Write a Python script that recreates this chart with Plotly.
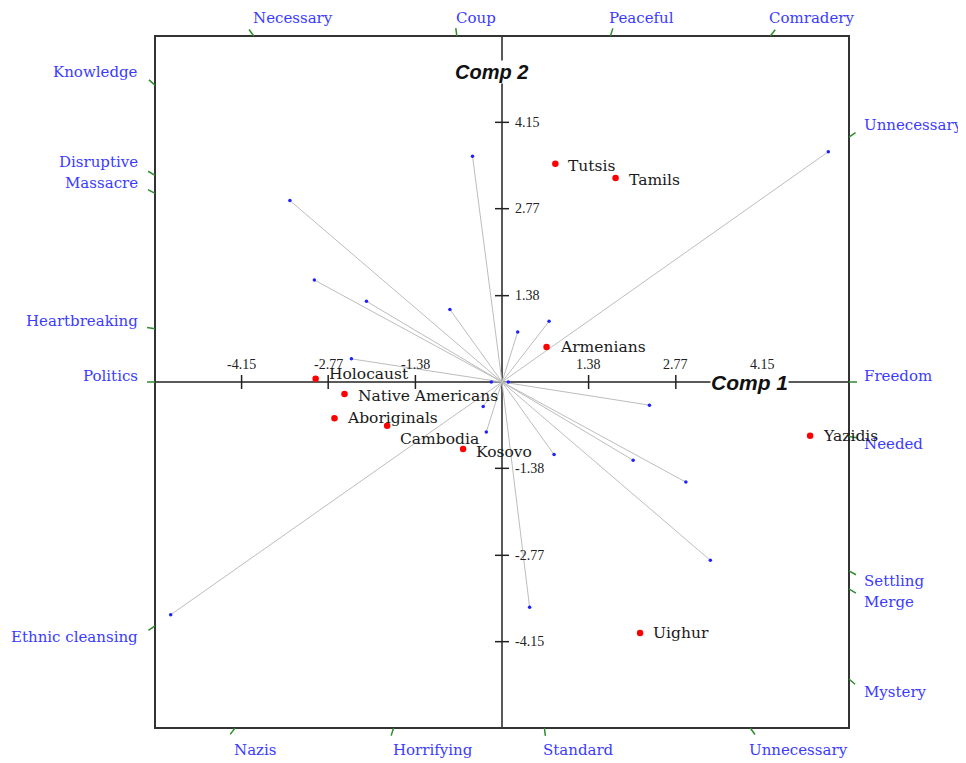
import math
import plotly.graph_objects as go

# ---------------- data ----------------
variables = ["Unnecessary", "Coup", "Knowledge", "Massacre", "Disruptive", "Necessary",
             "Peaceful", "Comradery", "Heartbreaking", "Politics", "Freedom", "Needed",
             "Horrifying", "Unnecessary", "Merge", "Settling", "Mystery", "Standard",
             "Ethnic cleansing", "Nazis"]
var_comp1 = [5.20, -0.47, -3.38, -2.99, -2.16, -0.83, 0.25, 0.75, -2.40, -0.17, 0.10, 2.35,
             -0.25, 0.83, 2.09, 2.93, 3.32, 0.44, -5.28, -0.30]
var_comp2 = [3.68, 3.61, 2.90, 1.63, 1.29, 1.16, 0.80, 0.97, 0.37, 0.00, 0.00, -0.37,
             -0.80, -1.16, -1.25, -1.60, -2.85, -3.60, -3.72, -0.39]

groups = ["Tutsis", "Tamils", "Armenians", "Holocaust", "Native Americans", "Aboriginals",
          "Cambodia", "Kosovo", "Yazidis", "Uighur"]
grp_comp1 = [0.85, 1.81, 0.71, -2.97, -2.51, -2.67, -1.83, -0.62, 4.91, 2.20]
grp_comp2 = [3.49, 3.26, 0.56, 0.05, -0.19, -0.58, -0.70, -1.07, -0.86, -4.01]

tick_vals = [-4.15, -2.77, -1.38, 1.38, 2.77, 4.15]
tick_text = ["-4.15", "-2.77", "-1.38", "1.38", "2.77", "4.15"]

# ---------------- styling / layout constants ----------------
R = 5.53
PAGE_OFF = 8  # default body margin of the html page
FIG_W, FIG_H = 966 - PAGE_OFF, 763 - PAGE_OFF
ML, MR, MT, MB = 155 - PAGE_OFF, 117, 36 - PAGE_OFF, 35
W, H = FIG_W - ML - MR, FIG_H - MT - MB
SX, SY = W / (2 * R), H / (2 * R)
BLUE = "#3b3bff"
GREEN = "#2e8b2e"
label_dy = {"Holocaust": 5, "Cambodia": -13, "Kosovo": -3, "Tutsis": -2, "Tamils": -2,
            "Native Americans": -2}

def px(x, y):
    return (x + R) * SX, (R - y) * SY

def paper(pxx, pyy):
    return pxx / W, 1 - pyy / H

fig = go.Figure()

# vectors
lx, ly = [], []
for vx, vy in zip(var_comp1, var_comp2):
    lx += [0, vx, None]
    ly += [0, vy, None]
fig.add_trace(go.Scatter(x=lx, y=ly, mode="lines", line=dict(color="#bdbdbd", width=1),
                         hoverinfo="skip", showlegend=False))
fig.add_trace(go.Scatter(x=var_comp1, y=var_comp2, mode="markers",
                         marker=dict(color="#1f1fff", size=3.5), showlegend=False))
fig.add_trace(go.Scatter(x=grp_comp1, y=grp_comp2, mode="markers",
                         marker=dict(color="#ff0000", size=6.5, symbol="circle"),
                         showlegend=False))

shapes = []
annotations = []

# frame
shapes.append(dict(type="rect", xref="paper", yref="paper", x0=0, y0=0, x1=1, y1=1,
                   line=dict(color="#333", width=2), layer="above"))
# axes
shapes.append(dict(type="line", xref="x", yref="y", x0=-R, x1=R, y0=0, y1=0,
                   line=dict(color="#222", width=1.5), layer="below"))
shapes.append(dict(type="line", xref="x", yref="y", x0=0, x1=0, y0=-R, y1=R,
                   line=dict(color="#222", width=1.5), layer="below"))
for v, t in zip(tick_vals, tick_text):
    shapes.append(dict(type="line", xref="x", yref="y", x0=v, x1=v, ysizemode="pixel",
                       yanchor=0, y0=-7, y1=7, line=dict(color="#222", width=1.5), layer="below"))
    shapes.append(dict(type="line", xref="x", yref="y", y0=v, y1=v, xsizemode="pixel",
                       xanchor=0, x0=-7, x1=7, line=dict(color="#222", width=1.5), layer="below"))
    annotations.append(dict(x=v, y=0, xref="x", yref="y", text=t, showarrow=False,
                            xanchor="center", yanchor="bottom", yshift=8,
                            font=dict(family="Liberation Serif", size=14, color="#222")))
    annotations.append(dict(x=0, y=v, xref="x", yref="y", text=t, showarrow=False,
                            xanchor="left", yanchor="middle", xshift=11,
                            font=dict(family="Liberation Serif", size=14, color="#222")))

# variable labels at frame edges
sides = {"left": [], "right": [], "top": [], "bottom": []}
for name, vx, vy in zip(variables, var_comp1, var_comp2):
    tx = R / abs(vx) if vx != 0 else math.inf
    ty = R / abs(vy) if vy != 0 else math.inf
    t = min(tx, ty)
    ex, ey = vx * t, vy * t
    bx, by = px(ex, ey)
    ux, uy = vx * SX, -vy * SY
    n = math.hypot(ux, uy)
    ux, uy = ux / n, uy / n
    ox, oy = bx + 8 * ux, by + 8 * uy
    x0p, y0p = paper(bx, by)
    x1p, y1p = paper(ox, oy)
    shapes.append(dict(type="line", xref="paper", yref="paper", x0=x0p, y0=y0p, x1=x1p, y1=y1p,
                       line=dict(color=GREEN, width=1.5)))
    if tx <= ty:
        side = "right" if vx > 0 else "left"
        ratio = abs(vy / vx) * SY / SX
        off = 6 + 8 * ratio
        cy = by - off if vy >= 0 else by + off
        sides[side].append([name, bx, by, cy, vy])
    else:
        side = "top" if vy > 0 else "bottom"
        sides[side].append([name, bx, by, None, vy])

GAP = 21
for side in ("left", "right"):
    items = sides[side]
    upper = sorted([i for i in items if i[4] >= 0], key=lambda i: -i[2])
    lower = sorted([i for i in items if i[4] < 0], key=lambda i: i[2])
    for k in range(1, len(upper)):
        if upper[k][3] > upper[k - 1][3] - GAP:
            upper[k][3] = upper[k - 1][3] - GAP
    for k in range(1, len(lower)):
        if lower[k][3] < lower[k - 1][3] + GAP:
            lower[k][3] = lower[k - 1][3] + GAP
    for name, bx, by, cy, vy in items:
        if side == "right":
            xp, yp = paper(W + 13, cy)
            xa = "left"
        else:
            xp, yp = paper(-15, cy)
            xa = "right"
        annotations.append(dict(x=xp, y=yp, xref="paper", yref="paper", text=name,
                                showarrow=False, xanchor=xa, yanchor="middle",
                                font=dict(family="DejaVu Serif", size=15, color=BLUE)))
for side in ("top", "bottom"):
    for name, bx, by, cy, vy in sides[side]:
        cyy = -18 if side == "top" else H + 22
        xp, yp = paper(bx - 3, cyy)
        annotations.append(dict(x=xp, y=yp, xref="paper", yref="paper", text=name,
                                showarrow=False, xanchor="left", yanchor="middle",
                                font=dict(family="DejaVu Serif", size=15, color=BLUE)))

# group labels
for name, gx, gy in zip(groups, grp_comp1, grp_comp2):
    annotations.append(dict(x=gx, y=gy, xref="x", yref="y", text=name, showarrow=False,
                            xanchor="left", yanchor="middle", xshift=11,
                            yshift=label_dy.get(name, 0),
                            font=dict(family="DejaVu Serif", size=15.5, color="#1a1a1a")))

# axis titles
annotations.append(dict(x=3.94, y=0, xref="x", yref="y", text="<b><i>Comp 1</i></b>",
                        showarrow=False, bgcolor="white", borderpad=0,
                        font=dict(family="Liberation Sans", size=21, color="#111")))
annotations.append(dict(x=-0.17, y=4.95, xref="x", yref="y", text="<b><i>Comp 2</i></b>",
                        showarrow=False, bgcolor="white", borderpad=0,
                        font=dict(family="Liberation Sans", size=20, color="#111")))

fig.update_layout(
    width=FIG_W, height=FIG_H,
    margin=dict(l=ML, r=MR, t=MT, b=MB),
    paper_bgcolor="white", plot_bgcolor="white",
    xaxis=dict(range=[-R, R], visible=False, showgrid=False, zeroline=False),
    yaxis=dict(range=[-R, R], visible=False, showgrid=False, zeroline=False),
    shapes=shapes, annotations=annotations, showlegend=False,
)

fig.write_html("out.html")
